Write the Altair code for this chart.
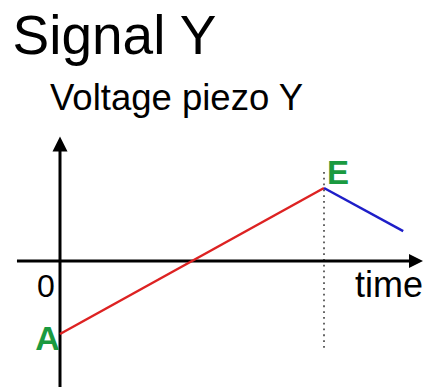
import altair as alt
import pandas as pd

# Signal data (time in arbitrary units, voltage in arbitrary units)
point_labels = ["A", "E", "end"]
times = [0.0, 1.0, 1.30]
volts = [-1.0, 1.0, 0.41]

# axes extents
x_axis_t = [-0.163, 1.34]
y_axis_v = [-1.75, 1.60]
arrow_x_t, arrow_y_v = 1.3485, 1.603
dotted_v = [1.22, -1.19]

FONT = "Liberation Sans"
W, H = 417, 379
xs = alt.Scale(domain=[-0.19697, 1.38258], nice=False, zero=False)
ys = alt.Scale(domain=[253 / 73 - H / 73, 253 / 73], nice=False, zero=False)

red_df = pd.DataFrame({"t": times[:2], "v": volts[:2]})
blue_df = pd.DataFrame({"t": times[1:], "v": volts[1:]})
lab_df = pd.DataFrame({"label": point_labels, "t": times, "v": volts})

X = lambda f: alt.X(f, type="quantitative", scale=xs, axis=None)
Y = lambda f: alt.Y(f, type="quantitative", scale=ys, axis=None)

xaxis = alt.Chart(pd.DataFrame({"t": [x_axis_t[0]], "t2": [x_axis_t[1]], "v": [0.0]})).mark_rule(
    color="black", strokeWidth=3).encode(x=X("t"), x2="t2", y=Y("v"))
yaxis = alt.Chart(pd.DataFrame({"t": [0.0], "v": [y_axis_v[0]], "v2": [y_axis_v[1]]})).mark_rule(
    color="black", strokeWidth=3).encode(x=X("t"), y=Y("v"), y2="v2")
arrow_r = alt.Chart(pd.DataFrame({"t": [arrow_x_t], "v": [0.0]})).mark_point(
    shape="M-1,-1L1,0L-1,1Z", size=196, filled=True, color="black", opacity=1).encode(x=X("t"), y=Y("v"))
arrow_u = alt.Chart(pd.DataFrame({"t": [0.0], "v": [arrow_y_v]})).mark_point(
    shape="M-1,1L0,-1L1,1Z", size=225, filled=True, color="black", opacity=1).encode(x=X("t"), y=Y("v"))
dotted = alt.Chart(pd.DataFrame({"t": [times[1]], "v": [dotted_v[0]], "v2": [dotted_v[1]]})).mark_rule(
    color="#555555", strokeWidth=1.8, strokeDash=[1.8, 4]).encode(x=X("t"), y=Y("v"), y2="v2")

red = alt.Chart(red_df).mark_line(color="#dd2222", strokeWidth=2.5).encode(x=X("t"), y=Y("v"))
blue = alt.Chart(blue_df).mark_line(color="#1e1ec8", strokeWidth=2.5).encode(x=X("t"), y=Y("v"))

labA = alt.Chart(lab_df[lab_df.label == "A"]).mark_text(
    font=FONT, fontSize=34, fontWeight="bold", color="#1a9a40", align="center",
    baseline="alphabetic", dx=-12.5, dy=16).encode(x=X("t"), y=Y("v"), text="label:N")
labE = alt.Chart(lab_df[lab_df.label == "E"]).mark_text(
    font=FONT, fontSize=33, fontWeight="bold", color="#1a9a40", align="left",
    baseline="alphabetic", dx=3, dy=-4).encode(x=X("t"), y=Y("v"), text="label:N")

def txt(s, x, y, size, align="left"):
    return alt.Chart(pd.DataFrame({"s": [s]})).mark_text(
        font=FONT, fontSize=size, color="black", align=align, baseline="alphabetic").encode(
        x=alt.value(x), y=alt.value(y), text="s:N")

title = txt("Signal Y", 4.5, 46, 55)
ylabel = txt("Voltage piezo Y", 42, 102, 36.5)
zero = txt("0", 38, 289, 32, "center")
tlabel = txt("time", 347, 289, 36)

chart = alt.layer(
    dotted, xaxis, yaxis, arrow_r, arrow_u, red, blue, labA, labE, title, ylabel, zero, tlabel
).properties(
    width=W, height=H, padding=0, autosize=alt.AutoSizeParams(type="none"),
    background="white"
).configure_view(stroke=None)

chart.save("out.html", embed_options={"renderer": "svg", "actions": False})
